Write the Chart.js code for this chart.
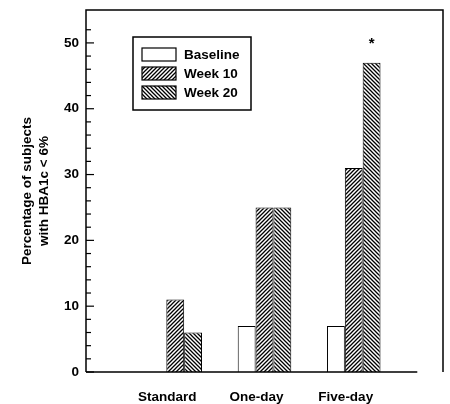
<!DOCTYPE html>
<html><head><meta charset="utf-8">
<script src="https://cdn.jsdelivr.net/npm/chart.js@4/dist/chart.umd.min.js"></script>
<style>html,body{margin:0;padding:0;background:#fff;}</style>
</head><body>
<canvas id="c" width="450" height="404"></canvas>
<script>
// ---- data ----
const categories = ['Standard', 'One-day', 'Five-day'];
const seriesNames = ['Baseline', 'Week 10', 'Week 20'];
const baseline = [0, 7, 7];
const week10 = [11, 25, 31];
const week20 = [6, 25, 47];
const yTickLabels = [0, 10, 20, 30, 40, 50];
const yTitle = ['Percentage of subjects', 'with HBA1c < 6%'];
const week20Marks = ['', '', '*'];

// pad category axis with an empty slot at each side
const labels = [''].concat(categories, ['']);
const pad = arr => [null].concat(arr, [null]);

const FONT = "'Liberation Sans', Arial, Helvetica, sans-serif";
const TXT = { family: FONT, size: 13.5, weight: 'bold' };

function hatch(ctx, dir) {
  const p = 4;
  const c = document.createElement('canvas'); c.width = p; c.height = p;
  const g = c.getContext('2d');
  g.fillStyle = '#fff'; g.fillRect(0, 0, p, p);
  g.strokeStyle = '#000'; g.lineWidth = 1.3; g.beginPath();
  if (dir > 0) {
    g.moveTo(-1, p + 1); g.lineTo(p + 1, -1);
    g.moveTo(-1, 1); g.lineTo(1, -1);
    g.moveTo(p - 1, p + 1); g.lineTo(p + 1, p - 1);
  } else {
    g.moveTo(-1, -1); g.lineTo(p + 1, p + 1);
    g.moveTo(p - 1, -1); g.lineTo(p + 1, 1);
    g.moveTo(-1, p - 1); g.lineTo(1, p + 1);
  }
  g.stroke();
  return ctx.createPattern(c, 'repeat');
}

const canvas = document.getElementById('c');
const ctx0 = canvas.getContext('2d');
const fills = ['#ffffff', hatch(ctx0, 1), hatch(ctx0, -1)];

const framePlugin = {
  id: 'frame',
  afterDraw(chart) {
    const { ctx, chartArea: a, scales: { y } } = chart;
    ctx.save();
    ctx.strokeStyle = '#000';
    ctx.lineWidth = 1.5;
    ctx.beginPath();
    ctx.moveTo(a.left, a.bottom); ctx.lineTo(a.left, a.top);
    ctx.lineTo(a.right, a.top); ctx.lineTo(a.right, a.bottom);
    ctx.moveTo(a.left, a.bottom);
    ctx.lineTo(a.left + (a.right - a.left) * 0.928, a.bottom);
    ctx.stroke();
    ctx.lineWidth = 1.2;
    y.ticks.forEach(t => {
      if (t.value % 2 !== 0) return;
      const py = y.getPixelForValue(t.value);
      const len = t.value % 10 === 0 ? 8 : 5;
      ctx.beginPath(); ctx.moveTo(a.left, py); ctx.lineTo(a.left + len, py); ctx.stroke();
    });
    // significance marks above week 20 bars
    const meta = chart.getDatasetMeta(2);
    ctx.fillStyle = '#000';
    ctx.font = 'bold 15px ' + FONT;
    ctx.textAlign = 'center'; ctx.textBaseline = 'middle';
    week20Marks.forEach((m, i) => {
      if (!m) return;
      const el = meta.data[i + 1];
      ctx.fillText(m, el.x, el.y - 19);
    });
    // legend
    const lx = 133, ly = 37, lw = 118, lh = 73;
    ctx.fillStyle = '#fff';
    ctx.fillRect(lx, ly, lw, lh);
    ctx.lineWidth = 1.5;
    ctx.strokeRect(lx, ly, lw, lh);
    ctx.font = 'bold 13.5px ' + FONT;
    ctx.textAlign = 'left'; ctx.textBaseline = 'middle';
    chart.data.datasets.forEach((ds, i) => {
      const sy = 48 + i * 19;
      ctx.fillStyle = ds.backgroundColor;
      ctx.fillRect(142, sy, 34, 13);
      ctx.lineWidth = 1.2;
      ctx.strokeRect(142, sy, 34, 13);
      ctx.fillStyle = '#000';
      ctx.fillText(ds.label, 184, sy + 7);
    });
    ctx.restore();
  }
};

function zeroPad(s) { s.paddingLeft = 0; s.paddingRight = 0; s.paddingTop = 0; s.paddingBottom = 0; }

new Chart(canvas, {
  type: 'bar',
  data: {
    labels: labels,
    datasets: [
      { label: seriesNames[0], data: pad(baseline), backgroundColor: fills[0] },
      { label: seriesNames[1], data: pad(week10), backgroundColor: fills[1] },
      { label: seriesNames[2], data: pad(week20), backgroundColor: fills[2] }
    ].map(d => Object.assign(d, { borderColor: '#000', borderWidth: 1, categoryPercentage: 0.6, barPercentage: 1.0 }))
  },
  options: {
    responsive: false,
    animation: false,
    layout: { padding: { top: 10, right: 7, left: 0, bottom: 0 } },
    plugins: { legend: { display: false }, tooltip: { enabled: false } },
    scales: {
      x: {
        offset: false,
        grid: { display: false, drawTicks: false },
        border: { display: false },
        ticks: { autoSkip: false, maxRotation: 0, padding: 17, labelOffset: -8, color: '#000', font: TXT },
        afterFit(s) { s.height = 32; zeroPad(s); }
      },
      y: {
        min: 0, max: 55,
        grid: { display: false, drawTicks: false },
        border: { display: false },
        ticks: {
          stepSize: 2, autoSkip: false, padding: 7, color: '#000',
          font: TXT,
          callback: v => yTickLabels.includes(v) ? String(v) : ''
        },
        title: { display: true, text: yTitle, color: '#000', font: TXT, padding: { top: 19.6, bottom: 0 } },
        afterFit(s) { s.width = 86; zeroPad(s); }
      }
    }
  },
  plugins: [framePlugin]
});
</script>
</body></html>
